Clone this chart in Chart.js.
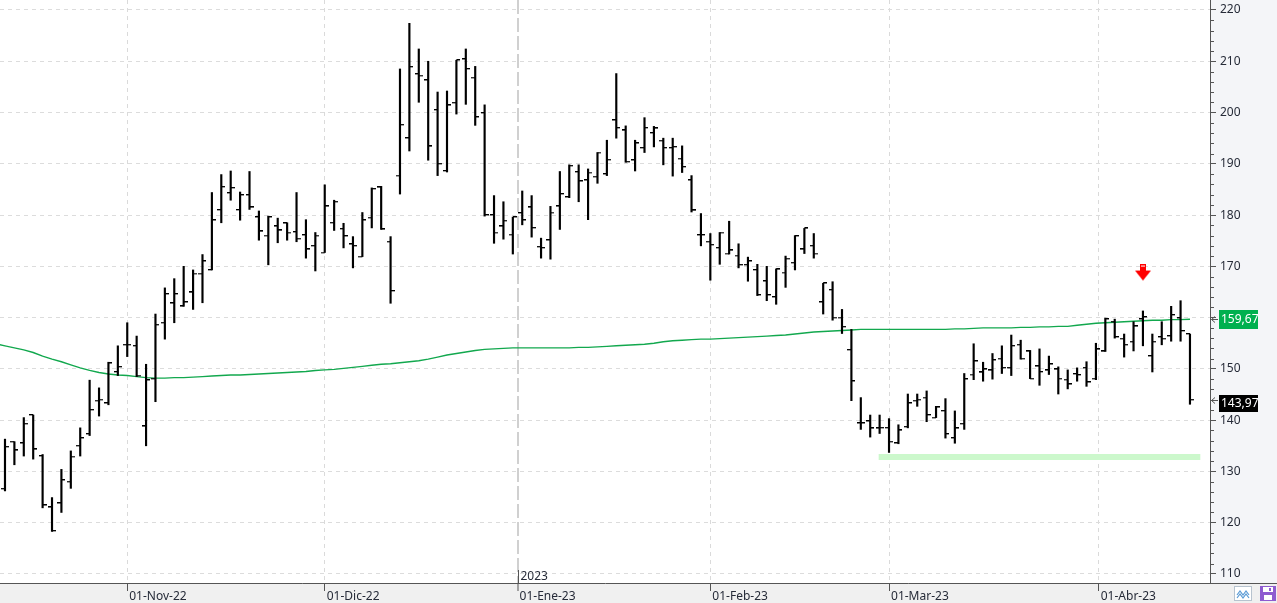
<!DOCTYPE html>
<html>
<head>
<meta charset="utf-8">
<script src="https://cdn.jsdelivr.net/npm/chart.js@4.4.1/dist/chart.umd.min.js"></script>
<style>
html,body{margin:0;padding:0;background:#fff;overflow:hidden}
#wrap{position:relative;width:1277px;height:603px}
</style>
</head>
<body>
<div id="wrap"><canvas id="c"></canvas></div>
<script>
// ---------- DATA ----------
const opens = [126.6,135.8,135.5,141.0,133.0,123.0,123.8,128.0,135.0,137.3,
143.8,143.3,149.4,154.7,154.5,138.8,148.1,159.0,162.8,162.2,
164.9,168.6,169.3,181.0,184.3,181.0,183.9,179.6,176.0,177.8,
178.4,176.7,176.1,174.0,172.7,178.5,177.3,174.3,171.9,179.5,
185.4,174.8,187.7,195.0,207.5,206.3,200.5,188.6,201.9,210.4,
206.8,199.9,180.0,177.8,176.2,180.4,181.5,173.8,175.1,181.7,
183.5,188.4,186.8,187.5,188.0,198.5,196.5,190.7,193.1,196.0,
194.5,193.1,191.0,186.8,176.1,174.8,173.6,172.5,172.1,170.3,
169.3,167.1,164.0,168.8,170.7,173.3,174.0,163.0,165.4,160.0,
153.7,139.4,139.8,138.4,138.5,135.5,138.7,143.8,144.4,140.5,
141.8,136.5,139.3,148.9,149.3,149.7,152.0,150.2,154.7,153.4,
150.5,149.7,149.9,147.9,149.0,150.2,148.1,153.4,159.2,155.9,
155.3,159.7,152.5,156.2,156.4,159.9,156.8];

const highs = [136.3,135.8,140.5,141.0,133.3,124.9,130.4,134.0,138.5,147.8,
146.3,151.3,154.5,159.0,156.4,150.9,160.7,165.8,167.6,170.0,
169.3,172.3,184.4,187.9,188.6,184.5,188.5,180.8,179.8,179.4,
178.5,184.4,179.1,176.6,185.9,182.9,178.4,175.8,180.5,185.3,
185.6,175.8,208.5,217.4,212.4,210.0,204.0,204.2,210.2,212.4,
209.0,201.5,183.8,182.6,179.6,184.7,183.8,175.5,181.7,188.5,
189.8,189.8,189.0,192.2,194.6,207.6,197.4,194.6,199.0,197.3,
195.0,195.0,193.5,187.7,180.3,176.4,176.6,178.8,174.4,171.8,
170.4,170.0,169.5,172.0,176.0,177.4,176.4,166.7,167.0,161.6,
157.7,144.4,141.0,141.0,140.3,139.1,145.1,145.1,145.7,142.7,
144.2,141.8,149.1,154.9,151.3,153.0,154.5,156.6,155.6,153.6,
153.9,152.5,150.4,149.8,150.2,151.4,155.0,159.9,159.7,156.8,
159.2,161.3,156.8,159.2,162.2,163.3,156.8];

const lows = [126.2,131.3,133.0,132.4,122.9,118.3,122.0,126.7,133.0,137.0,
140.8,143.0,148.7,152.4,148.5,135.0,143.6,155.8,159.0,162.2,
161.6,162.9,169.3,178.5,182.9,179.0,181.1,175.1,170.3,174.6,
175.1,174.8,171.6,169.1,172.7,177.0,173.6,169.7,171.9,177.5,
177.2,162.8,184.1,192.5,202.0,190.7,187.7,188.4,199.7,201.6,
197.5,179.8,174.5,175.3,172.4,178.1,175.7,171.6,171.4,177.2,
183.4,182.6,179.1,186.2,187.7,195.0,190.3,188.6,192.2,193.3,
189.8,187.6,188.3,180.6,174.0,167.3,170.4,172.4,169.7,167.1,
164.3,163.3,162.6,165.9,169.3,172.5,171.6,160.7,159.5,156.9,
143.8,138.2,136.7,137.4,133.7,135.4,138.5,142.7,139.7,140.5,
136.5,135.5,138.2,147.9,147.6,148.0,149.1,148.7,151.9,148.1,
146.8,148.9,145.1,146.1,147.6,146.6,147.9,153.4,156.0,152.3,
153.5,154.5,149.4,154.7,155.4,155.4,143.1];

const closes = [134.8,134.1,139.3,134.3,123.4,118.4,128.3,132.9,136.5,142.0,
144.0,151.1,150.4,154.7,148.7,147.8,158.6,164.6,164.6,163.0,
168.6,171.0,179.0,185.5,185.3,183.9,181.5,176.8,179.6,177.0,
176.6,175.4,173.3,176.0,181.7,182.6,175.9,174.0,179.0,185.1,
177.2,165.2,197.6,208.9,207.2,193.4,190.0,201.4,210.2,208.5,
199.1,180.0,176.6,178.9,179.6,179.0,177.5,173.6,180.5,184.1,
189.6,186.6,188.3,192.2,190.8,197.0,190.4,194.0,197.0,196.9,
193.1,193.3,189.4,180.9,176.1,174.2,176.6,173.1,170.3,171.0,
164.4,164.4,169.4,171.5,175.9,177.4,172.5,166.7,160.0,158.2,
147.6,139.4,138.4,138.5,135.8,138.0,143.3,144.0,141.0,142.5,
137.3,138.4,148.0,151.5,149.9,151.7,150.2,154.5,152.0,148.1,
149.4,150.9,148.1,147.0,148.8,147.4,153.8,159.7,156.2,154.7,
158.3,160.1,155.3,155.9,160.5,157.4,143.97];

// moving average, first value belongs to bar index -1
const maStart = -1;
const maValues = [154.9,
154.5,154.1,153.7,153.2,152.5,151.9,151.4,150.8,150.2,149.7,
149.3,149.0,148.8,148.7,148.5,148.3,148.2,148.2,148.3,148.3,
148.4,148.5,148.6,148.7,148.8,148.8,148.9,149.0,149.1,149.2,
149.3,149.4,149.5,149.7,149.8,149.9,150.1,150.3,150.5,150.7,
150.9,151.0,151.2,151.4,151.6,151.9,152.3,152.7,153.0,153.3,
153.6,153.8,153.9,154.0,154.1,154.1,154.1,154.1,154.1,154.1,
154.1,154.2,154.2,154.3,154.4,154.5,154.6,154.7,154.8,155.0,
155.3,155.5,155.6,155.7,155.8,155.8,155.9,156.0,156.1,156.2,
156.3,156.4,156.5,156.6,156.8,157.0,157.2,157.3,157.4,157.5,
157.6,157.7,157.7,157.7,157.7,157.7,157.7,157.7,157.7,157.7,
157.7,157.8,157.8,157.9,158.0,158.0,158.0,158.0,158.1,158.1,
158.2,158.2,158.3,158.3,158.5,158.7,158.9,159.0,159.1,159.2,
159.3,159.4,159.5,159.5,159.6,159.6,159.67];

const monthTickIndex  = [13, 34, 54.5, 75, 94, 116.3];
const monthTickLabels = ['01-Nov-22','01-Dic-22','01-Ene-23','01-Feb-23','01-Mar-23','01-Abr-23'];
const yearMarkIndex = 54.5;
const yearLabel = '2023';
const yTickValues = [110,120,130,140,150,160,170,180,190,200,210,220];
const yMinorStep = 2;
const supportLevel = 132.8;
const supportFrom = 92.9;
const supportTo = 127.1;
const signalIndex = 121;
const signalValue = 168.8;
const lastMA = 159.67;
const lastClose = 143.97;

// ---------- rendering ----------
const FONT = '"Noto Sans", "Open Sans", sans-serif';
const TXT = '#262b38';

function makeTick(side) {
  const c = document.createElement('canvas');
  c.width = 8; c.height = 2;
  const g = c.getContext('2d');
  const x0 = side === 'L' ? 0 : 4;
  g.fillStyle = '#000';
  g.fillRect(x0, 0, 4, 1);
  g.fillStyle = 'rgba(0,0,0,0.35)';
  g.fillRect(x0, 1, 4, 1);
  return c;
}
function makeArrow() {
  const c = document.createElement('canvas');
  c.width = 16; c.height = 18;
  const g = c.getContext('2d');
  g.fillStyle = '#ff0000';
  g.fillRect(5, 0, 6, 8);
  g.beginPath(); g.moveTo(0, 7); g.lineTo(16, 7); g.lineTo(8, 17); g.closePath(); g.fill();
  g.fillStyle = '#ffffff';
  g.fillRect(6, 2, 4, 1);
  return c;
}
const openTick = makeTick('L');
const closeTick = makeTick('R');
const arrowImg = makeArrow();

const fmt = v => v.toFixed(2).replace('.', ',');

function noPad(s) { s.paddingLeft = 0; s.paddingRight = 0; s.paddingTop = 0; s.paddingBottom = 0; }

const decor = {
  id: 'decor',
  beforeDraw(chart) {
    const {ctx, chartArea: a, width, height} = chart;
    ctx.save();
    ctx.fillStyle = '#ffffff'; ctx.fillRect(0, 0, width, height);
    ctx.fillStyle = '#f4f5f8'; ctx.fillRect(a.right, 0, width - a.right, a.bottom);
    ctx.fillStyle = '#f0f0f0'; ctx.fillRect(0, a.bottom, width, height - a.bottom);
    ctx.restore();
  },
  afterDraw(chart) {
    const {ctx, chartArea: a, width} = chart;
    const xs = chart.scales.x, ys = chart.scales.y;
    ctx.save();
    ctx.strokeStyle = '#555'; ctx.lineWidth = 1;
    const by = Math.round(a.bottom) + 0.5;
    ctx.beginPath(); ctx.moveTo(a.right, by); ctx.lineTo(width, by); ctx.stroke();
    // minor ticks on the price axis
    ctx.beginPath();
    for (let v = yTickValues[0]; v <= yTickValues[yTickValues.length - 1]; v += yMinorStep) {
      if (v % 10 === 0) continue;
      const y = Math.round(ys.getPixelForValue(v)) + 0.5;
      ctx.moveTo(a.right, y); ctx.lineTo(a.right + 4, y);
    }
    ctx.stroke();
    // year marker
    const yx = Math.round(xs.getPixelForValue(yearMarkIndex)) + 0.5;
    ctx.beginPath(); ctx.moveTo(yx, a.bottom - 13); ctx.lineTo(yx, a.bottom); ctx.stroke();
    ctx.fillStyle = TXT; ctx.font = '12px ' + FONT; ctx.textAlign = 'left'; ctx.textBaseline = 'alphabetic';
    ctx.fillText(yearLabel, yx + 2, a.bottom - 3);
    // value tags
    function tag(value, bg, top, h) {
      const y = ys.getPixelForValue(value);
      const ay = Math.round(y) + 0.5;
      ctx.strokeStyle = '#555';
      ctx.beginPath();
      ctx.moveTo(a.right + 5, ay - 3); ctx.lineTo(a.right + 1.5, ay); ctx.lineTo(a.right + 5, ay + 3);
      ctx.moveTo(a.right + 1.5, ay); ctx.lineTo(a.right + 8, ay);
      ctx.stroke();
      const bt = Math.round(y + top);
      ctx.fillStyle = bg; ctx.fillRect(a.right + 9, bt, 39, h);
      ctx.fillStyle = '#ffffff'; ctx.textBaseline = 'middle';
      ctx.fillText(fmt(value), a.right + 11, bt + h / 2 + 0.5);
    }
    tag(lastMA, '#00b04f', -9.5, 19);
    tag(lastClose, '#000000', -5, 17);
    // toolbar icons (bottom right)
    ctx.fillStyle = '#ffffff'; ctx.fillRect(1234, 586, 18, 15);
    ctx.strokeStyle = '#b7c3cf'; ctx.strokeRect(1234.5, 586.5, 17, 14);
    ctx.strokeStyle = '#5b9bd5'; ctx.lineWidth = 1.2;
    ctx.beginPath(); ctx.moveTo(1237, 595); ctx.lineTo(1240, 591); ctx.lineTo(1243, 595); ctx.lineTo(1246, 591); ctx.lineTo(1249, 595); ctx.stroke();
    ctx.beginPath(); ctx.moveTo(1237, 598); ctx.lineTo(1240, 594); ctx.lineTo(1243, 598); ctx.lineTo(1246, 594); ctx.lineTo(1249, 598); ctx.stroke();
    ctx.fillStyle = '#8e5bd0'; ctx.fillRect(1260, 586, 16, 15);
    ctx.fillStyle = '#ffffff'; ctx.fillRect(1263, 587, 10, 5);
    ctx.fillRect(1264, 595, 8, 5);
    ctx.fillStyle = '#8e5bd0'; ctx.fillRect(1269, 588, 2, 3);
    ctx.restore();
  }
};

const barData   = opens.map((_, i) => ({x: i, y: [lows[i], highs[i]]}));
const openData  = opens.map((v, i) => ({x: i, y: v}));
const closeData = closes.map((v, i) => ({x: i, y: v}));
const maData    = maValues.map((v, k) => ({x: k + maStart, y: v}));
const supportData = [{x: supportFrom, y: supportLevel}, {x: supportTo, y: supportLevel}];
const signalData = [{x: signalIndex, y: signalValue}];

new Chart(document.getElementById('c'), {
  type: 'bar',
  data: {
    datasets: [
      {type: 'bar', data: barData, backgroundColor: '#000', borderWidth: 0, barThickness: 1.5, order: 1},
      {type: 'scatter', data: openData, pointStyle: openTick, pointRadius: 3, order: 0},
      {type: 'scatter', data: closeData, pointStyle: closeTick, pointRadius: 3, order: 0},
      {type: 'line', data: maData, borderColor: '#12a84e', borderWidth: 1.4, pointRadius: 0, tension: 0, order: 5},
      {type: 'line', data: supportData, borderColor: '#ccf8cc', borderWidth: 6, borderCapStyle: 'butt', pointRadius: 0, order: 6},
      {type: 'scatter', data: signalData, pointStyle: arrowImg, pointRadius: 8, order: 0}
    ]
  },
  options: {
    responsive: true,
    maintainAspectRatio: false,
    animation: false,
    events: [],
    layout: {padding: 0, autoPadding: false},
    plugins: {legend: {display: false}, tooltip: {enabled: false}},
    scales: {
      x: {
        type: 'linear', position: 'bottom', min: -0.53, max: 128.13, offset: false,
        afterFit(s) { s.height = 20; noPad(s); },
        afterBuildTicks(s) { s.ticks = monthTickIndex.map(v => ({value: v})); },
        ticks: {
          autoSkip: false, maxRotation: 0, minRotation: 0, align: 'start', labelOffset: 2, padding: -2,
          color: TXT, font: {family: FONT, size: 12},
          callback: (v, i) => monthTickLabels[i]
        },
        grid: {
          offset: false,
          color: c => (c.index === 2 ? '#d0d0d0' : '#dadada'),
          lineWidth: c => (c.index === 2 ? 2 : 1),
          drawTicks: true, tickLength: 8, tickColor: '#555', tickWidth: 1
        },
        border: {display: true, color: '#555', width: 1, dash: c => (c.index === 2 ? [14, 4] : [4, 4])}
      },
      y: {
        type: 'linear', position: 'right', min: 108.24, max: 221.95,
        afterFit(s) { s.width = 67; noPad(s); },
        afterBuildTicks(s) { s.ticks = yTickValues.map(v => ({value: v})); },
        ticks: {padding: 4, color: TXT, font: {family: FONT, size: 12}, callback: v => String(v)},
        grid: {color: '#dcdcdc', lineWidth: 1, drawTicks: true, tickLength: 6, tickColor: '#555'},
        border: {display: true, color: '#555', width: 1, dash: [4, 4]}
      }
    }
  },
  plugins: [decor]
});
</script>
</body>
</html>
